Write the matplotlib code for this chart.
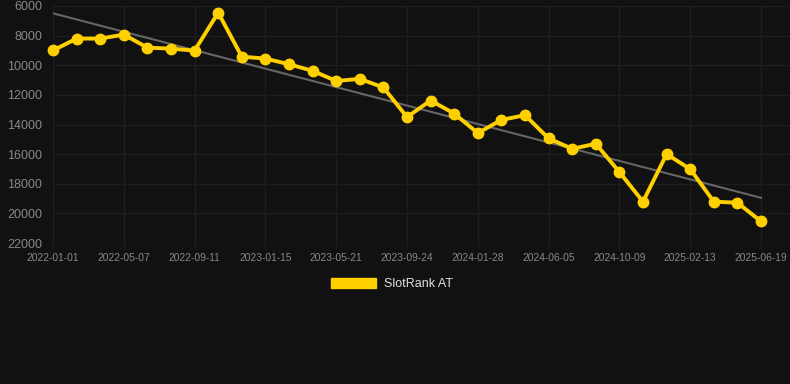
import numpy as np
import matplotlib
matplotlib.use("Agg")
import matplotlib.pyplot as plt
from matplotlib.patches import Patch

# tick labels shown on x axis (every 3rd point)
tick_labels = ["2022-01-01", "2022-05-07", "2022-09-11", "2023-01-15", "2023-05-21",
               "2023-09-24", "2024-01-28", "2024-06-05", "2024-10-09", "2025-02-13",
               "2025-06-19"]

# rank values, one point every ~42 days
ranks = [9000, 8200, 8200, 7930, 8810, 8880, 9010, 6450, 9420, 9550,
         9930, 10380, 11060, 10920, 11500, 13500, 12380, 13260, 14580, 13690,
         13370, 14940, 15640, 15300, 17210, 19210, 16000, 17010, 19210, 19280,
         20540]

series_name = "SlotRank AT"

bg = "#111111"
yellow = "#FFD000"

plt.rcParams['font.family'] = ['Liberation Sans', 'DejaVu Sans']

fig = plt.figure(figsize=(7.9, 3.84), dpi=100, facecolor=bg)
ax = fig.add_axes([53/790, 1-243/384, 737/790, 237/384])
ax.set_facecolor(bg)

x = np.arange(len(ranks))
# trend line (least squares)
k, b = np.polyfit(x, ranks, 1)
ax.plot(x, k*x + b, color="#666666", lw=1.5, zorder=2)

ax.plot(x, ranks, color=yellow, lw=2.8, marker="o", ms=7.5, zorder=3, clip_on=False)

ax.set_ylim(22000, 6000)
ax.set_yticks(range(6000, 22001, 2000))
ax.set_xlim(0, len(ranks) - 1 + 29/23.6)
ax.set_xticks(x[::3])
ax.set_xticklabels(tick_labels)

ax.grid(True, color="#1e1e1e", lw=1)
ax.set_axisbelow(True)
for s in ax.spines.values():
    s.set_visible(False)
ax.tick_params(axis="y", length=0, labelsize=9, colors="#888888", pad=8)
ax.tick_params(axis="x", length=4, color="#1e1e1e", labelsize=7.4, labelcolor="#888888", pad=3)

leg = fig.legend(handles=[Patch(facecolor=yellow, edgecolor=yellow, label=series_name)],
                 loc="center", bbox_to_anchor=(392/790, 1-284/384), frameon=False,
                 handlelength=3.6, handleheight=0.9, fontsize=9, labelcolor="#e0e0e0",
                 handletextpad=0.6)

fig.savefig("out.png", dpi=100, facecolor=bg)
